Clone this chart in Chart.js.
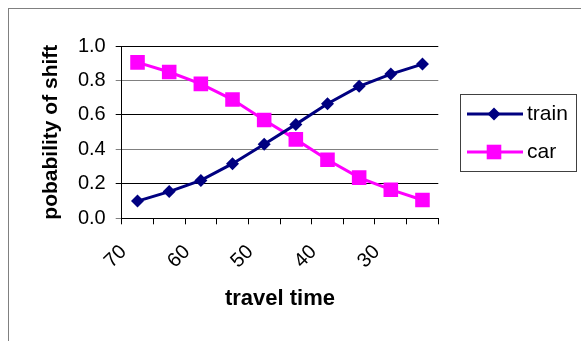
<!DOCTYPE html>
<html>
<head>
<meta charset="utf-8">
<script src="https://cdn.jsdelivr.net/npm/chart.js@4/dist/chart.umd.min.js"></script>
<style>
  html, body { margin: 0; padding: 0; background: #fff; }
  #wrap { width: 581px; height: 341px; position: relative; }
</style>
</head>
<body>
<div id="wrap"><canvas id="shift-chart"></canvas></div>
<script>
// Data
const travelTimes = [70, 65, 60, 55, 50, 45, 40, 35, 30, 25];
const trainValues = [0.10, 0.155, 0.22, 0.317, 0.43, 0.545, 0.665, 0.766, 0.837, 0.895];
const carValues = [0.905, 0.849, 0.78, 0.689, 0.571, 0.458, 0.34, 0.236, 0.166, 0.106];
const yTicks = [0, 0.2, 0.4, 0.6, 0.8, 1.0];

const FONT = "'Liberation Sans', Arial, sans-serif";
const NAVY = '#000080';
const MAGENTA = '#ff00ff';

// Outer frame + legend box, drawn on the canvas
const framePlugin = {
  id: 'frame',
  beforeDraw(chart) {
    const ctx = chart.ctx;
    ctx.save();
    ctx.fillStyle = '#fff';
    ctx.fillRect(0, 0, chart.width, chart.height);
    ctx.strokeStyle = '#808080';
    ctx.lineWidth = 1;
    ctx.strokeRect(8.5, 8.5, chart.width + 20, chart.height + 20);
    ctx.restore();
  },
  afterDraw(chart) {
    const ctx = chart.ctx;
    ctx.save();
    // legend box
    ctx.strokeStyle = '#404040';
    ctx.lineWidth = 1;
    ctx.strokeRect(460.5, 94.5, 116, 77);
    const rows = [
      { label: 'train', y: 114, color: NAVY, marker: 'diamond' },
      { label: 'car', y: 152, color: MAGENTA, marker: 'square' }
    ];
    rows.forEach(r => {
      ctx.strokeStyle = r.color;
      ctx.fillStyle = r.color;
      ctx.lineWidth = 3;
      ctx.beginPath();
      ctx.moveTo(467, r.y);
      ctx.lineTo(523, r.y);
      ctx.stroke();
      const cx = 494;
      ctx.beginPath();
      if (r.marker === 'diamond') {
        ctx.moveTo(cx, r.y - 6.5);
        ctx.lineTo(cx + 6.5, r.y);
        ctx.lineTo(cx, r.y + 6.5);
        ctx.lineTo(cx - 6.5, r.y);
        ctx.closePath();
      } else {
        ctx.rect(cx - 7.3, r.y - 7.3, 14.6, 14.6);
      }
      ctx.fill();
      ctx.fillStyle = '#000';
      ctx.font = '21px ' + FONT;
      ctx.textAlign = 'left';
      ctx.textBaseline = 'alphabetic';
      ctx.fillText(r.label, 527, r.y + 6);
    });
    ctx.restore();
  }
};

const ctx = document.getElementById('shift-chart').getContext('2d');
const shiftChart = new Chart(ctx, {
  type: 'line',
  data: {
    labels: travelTimes,
    datasets: [{
      label: 'train',
      data: trainValues,
      borderColor: NAVY,
      backgroundColor: NAVY,
      borderWidth: 3,
      pointStyle: 'rectRot',
      pointRadius: 6.5,
      pointBorderWidth: 0,
      tension: 0
    }, {
      label: 'car',
      data: carValues,
      borderColor: MAGENTA,
      backgroundColor: MAGENTA,
      borderWidth: 3,
      pointStyle: 'rect',
      pointRadius: 10.3,
      pointBorderWidth: 0,
      tension: 0
    }]
  },
  options: {
    responsive: true,
    maintainAspectRatio: false,
    animation: false,
    layout: { padding: { left: 0, top: 46, right: 142.7, bottom: 0 } },
    plugins: {
      legend: { display: false },
      tooltip: { enabled: false }
    },
    scales: {
      x: {
        offset: true,
        grid: { offset: true, drawOnChartArea: false, tickLength: 6, color: '#000' },
        border: { color: '#000' },
        ticks: {
          autoSkip: false,
          minRotation: 45,
          maxRotation: 45,
          color: '#000',
          font: { family: FONT, size: 20 },
          padding: 16,
          labelOffset: -14,
          callback: (v, i) => (i % 2 === 0 ? String(travelTimes[i]) : '')
        },
        title: {
          display: true,
          text: 'travel time',
          color: '#000',
          font: { family: FONT, size: 22, weight: 'bold' },
          padding: { top: 0, bottom: 29 }
        },
        afterFit: s => { s.height = 122.7; }
      },
      y: {
        min: 0,
        max: 1,
        afterBuildTicks: s => { s.ticks = yTicks.map(v => ({ value: v })); },
        grid: {
          tickLength: 6,
          color: c => (c.index % 2 === 1 ? '#000' : '#808080')
        },
        border: { color: '#000' },
        ticks: {
          color: '#000',
          font: { family: FONT, size: 20 },
          padding: 10,
          callback: v => v.toFixed(1)
        },
        title: {
          display: true,
          text: 'pobability of shift',
          color: '#000',
          font: { family: FONT, size: 21, weight: 'bold' },
          padding: { top: 38.4, bottom: 0 }
        },
        afterFit: s => { s.width = 121.7; }
      }
    }
  },
  plugins: [framePlugin]
});
</script>
</body>
</html>
